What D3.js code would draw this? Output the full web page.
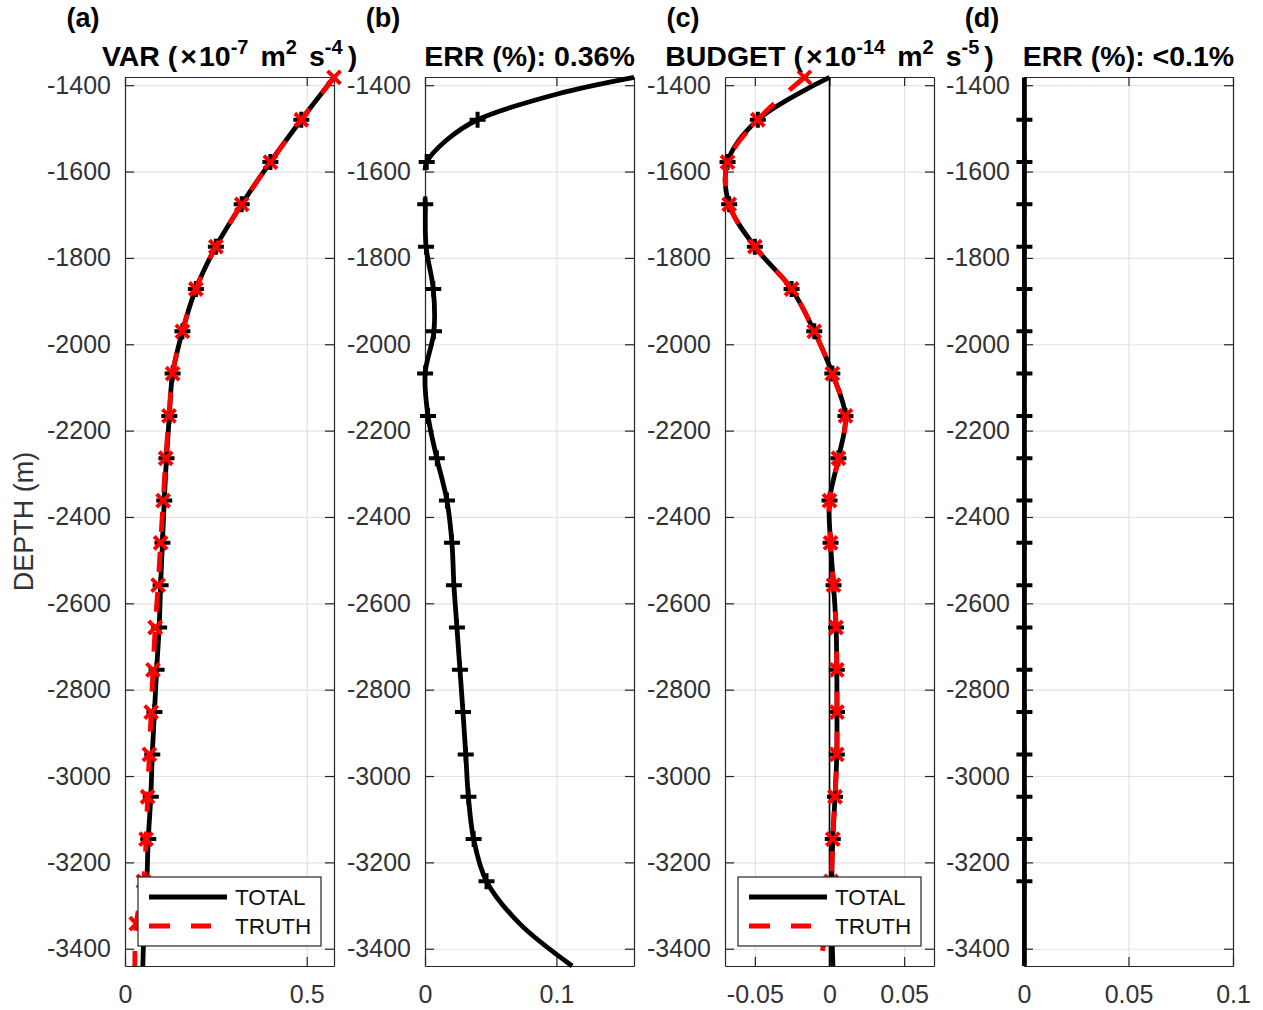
<!DOCTYPE html>
<html lang="en">
<head>
<meta charset="utf-8">
<script src="https://d3js.org/d3.v7.min.js"></script>
<style type="text/css">

body {
	margin: 0;
	background-color: #ffffff;
	font-family: "Liberation Sans", Arial, Helvetica, sans-serif;
}

.axis text {
	font-size: 25px;
	fill: #333333;
}

.axis path, .axis line {
	fill: none;
	stroke: #262626;
	stroke-width: 1.2;
}

.grid path {
	display: none;
}

.grid line {
	stroke: #e3e3e3;
	stroke-width: 1.2;
}

</style>
</head>
<body>
<script type="text/javascript">

var width = 1263;
var height = 1010;

// profile depths (m), one point every 98 m
var depth = [-1382, -1480, -1578, -1676, -1774, -1872, -1970, -2068, -2166, -2264, -2362,
             -2460, -2558, -2656, -2754, -2852, -2950, -3048, -3146, -3244, -3342, -3440];

// (a) variance, x 1e-7 m^2 s^-4
var varTotal = [0.575, 0.485, 0.400, 0.321, 0.250, 0.195, 0.158, 0.131, 0.122, 0.114, 0.108,
                0.103, 0.098, 0.094, 0.087, 0.081, 0.075, 0.071, 0.064, 0.060, 0.053, 0.049];
var varTruth = [0.575, 0.485, 0.400, 0.321, 0.250, 0.195, 0.158, 0.131, 0.121, 0.112, 0.105,
                0.098, 0.091, 0.083, 0.077, 0.072, 0.067, 0.062, 0.058, 0.051, 0.031, 0.027];

// (b) error of the variance (%), with a few extra depths where the curve bends
var errDepth = [-1382, -1421, -1480, -1527, -1578, -1597, -1630, -1662, -1676, -1774, -1872,
                -1970, -2068, -2166, -2264, -2362, -2460, -2558, -2656, -2754, -2852, -2950,
                -3048, -3146, -3244, -3342, -3440];
var errVar = [0.159, 0.100, 0.040, 0.0165, 0.0013, 0.0, -0.001, 0.0, 0.0002, 0.0008, 0.0063,
              0.0068, 0.0001, 0.0023, 0.0090, 0.0167, 0.0205, 0.0220, 0.0243, 0.0266, 0.0289, 0.0310,
              0.0330, 0.0370, 0.0468, 0.0720, 0.1120];

// (c) budget, x 1e-14 m^2 s^-5
var budTotal = [0.0, -0.0480, -0.0683, -0.0672, -0.0500, -0.0254, -0.0102, 0.0019, 0.0107, 0.0060, 0.0000,
                0.0007, 0.0027, 0.0044, 0.0049, 0.0050, 0.0049, 0.0037, 0.0022, 0.0015, 0.0015, 0.0023];
var budTruth = [-0.0168, -0.0480, -0.0683, -0.0672, -0.0500, -0.0254, -0.0102, 0.0019, 0.0107, 0.0060, 0.0000,
                0.0007, 0.0027, 0.0044, 0.0049, 0.0050, 0.0049, 0.0037, 0.0022, 0.0010, -0.0020, -0.0064];

// (d) error of the budget (%)
var errBud = [0.0002, 0.0002, 0.0002, 0.0002, 0.0002, 0.0002, 0.0002, 0.0002, 0.0002, 0.0002, 0.0002,
              0.0002, 0.0002, 0.0002, 0.0002, 0.0002, 0.0002, 0.0002, 0.0002, 0.0002, 0.0002, 0.0002];

// markers: TOTAL "+" from -1480 to -3244, TRUTH "x" from -1382 to -3342
var plusDepth = depth.slice(1, 20);
var crossDepth = depth.slice(0, 21);

var depthTicks = [-1400, -1600, -1800, -2000, -2200, -2400, -2600, -2800, -3000, -3200, -3400];
var depthLimits = [-1381, -3440];

var panelLabels = ["(a)", "(b)", "(c)", "(d)"];
// title pieces: [text, superscript?]
var titleA = [["VAR (", 0], ["\u00d7", 0], ["10", 0], ["-7", 1], ["m", 0], ["2", 1], ["s", 0], ["-4", 1], [")", 0]];
var titleB = [["ERR (%): 0.36%", 0]];
var titleC = [["BUDGET (", 0], ["\u00d7", 0], ["10", 0], ["-14", 1], ["m", 0], ["2", 1], ["s", 0], ["-5", 1], [")", 0]];
var titleD = [["ERR (%): <0.1%", 0]];
var legendNames = ["TOTAL", "TRUTH"];

var plotTop = 77, plotBottom = 966, plotW = 209;

var svg = d3.select("body")
  .append("svg")
  .attr("width", width)
  .attr("height", height);

svg.append("rect")
  .attr("width", width)
  .attr("height", height)
  .attr("fill", "#ffffff");

var y = d3.scaleLinear().domain(depthLimits).range([plotTop, plotBottom]);

function pts(depths, values) {
  return depths.map(function(z, i) { return {z: z, v: values[i]}; });
}

function pick(points, keep) {
  return points.filter(function(d) { return keep.indexOf(d.z) >= 0; });
}

function drawPanel(p) {
  var x = d3.scaleLinear().domain(p.xDomain).range([p.left, p.left + plotW]);
  var g = svg.append("g");
  var right = p.left + plotW;

  // grid
  g.append("g").attr("class", "grid")
    .attr("transform", "translate(0," + plotTop + ")")
    .call(d3.axisTop(x).tickValues(p.xTicks).tickSize(-(plotBottom - plotTop)).tickFormat(""));
  g.append("g").attr("class", "grid")
    .attr("transform", "translate(" + p.left + ",0)")
    .call(d3.axisLeft(y).tickValues(depthTicks).tickSize(-plotW).tickFormat(""));

  // box with inward ticks
  g.append("g").attr("class", "axis")
    .attr("transform", "translate(0," + plotBottom + ")")
    .call(d3.axisBottom(x).tickValues(p.xTicks).tickSizeInner(-9).tickSizeOuter(0)
      .tickPadding(19).tickFormat(function(d) { return String(d); }));
  g.append("g").attr("class", "axis")
    .attr("transform", "translate(0," + plotTop + ")")
    .call(d3.axisTop(x).tickValues(p.xTicks).tickSizeInner(-9).tickSizeOuter(0).tickFormat(""));
  g.append("g").attr("class", "axis")
    .attr("transform", "translate(" + p.left + ",0)")
    .call(d3.axisLeft(y).tickValues(depthTicks).tickSizeInner(-9).tickSizeOuter(0)
      .tickPadding(14).tickFormat(function(d) { return String(d); }));
  g.append("g").attr("class", "axis")
    .attr("transform", "translate(" + right + ",0)")
    .call(d3.axisRight(y).tickValues(depthTicks).tickSizeInner(-9).tickSizeOuter(0).tickFormat(""));

  if (p.zeroLine) {
    g.append("line")
      .attr("x1", x(0)).attr("x2", x(0))
      .attr("y1", plotTop).attr("y2", plotBottom)
      .style("stroke", "#000")
      .style("stroke-width", 1.6);
  }

  var line = d3.line()
    .defined(function(d) { return d.v >= p.xDomain[0]; })
    .x(function(d) { return x(d.v); })
    .y(function(d) { return y(d.z); })
    .curve(d3.curveCatmullRom.alpha(0.5));

  // TOTAL
  g.append("path")
    .datum(p.total)
    .attr("d", line)
    .style("fill", "none")
    .style("stroke", "#000")
    .style("stroke-width", 4.8);

  g.selectAll(".plus")
    .data(pick(p.total, plusDepth))
    .enter().append("path")
    .attr("transform", function(d) { return "translate(" + x(d.v) + "," + y(d.z) + ")"; })
    .attr("d", "M-8,0H8M0,-8V8")
    .style("stroke", "#000")
    .style("stroke-width", 4);

  // TRUTH
  if (p.truth) {
    g.append("path")
      .datum(p.truth)
      .attr("d", line)
      .style("fill", "none")
      .style("stroke", "#ff0000")
      .style("stroke-width", 4.8)
      .style("stroke-dasharray", "20,20");

    g.selectAll(".cross")
      .data(pick(p.truth, crossDepth))
      .enter().append("path")
      .attr("transform", function(d) { return "translate(" + x(d.v) + "," + y(d.z) + ")"; })
      .attr("d", "M-6.5,-6.5L6.5,6.5M-6.5,6.5L6.5,-6.5")
      .style("stroke", "#ff0000")
      .style("stroke-width", 4);
  }

  // panel letter and title
  svg.append("text")
    .attr("x", p.left - 42)
    .attr("y", 27)
    .attr("text-anchor", "middle")
    .style("font-size", "27px")
    .style("font-weight", "bold")
    .text(p.label);

  var t = svg.append("text")
    .attr("x", p.left + plotW / 2)
    .attr("y", 66)
    .attr("text-anchor", "middle")
    .style("font-size", "28.5px")
    .style("font-weight", "bold");
  var raised = false;
  p.title.forEach(function(part, i) {
    var sup = part[1] === 1;
    var dy = (sup ? -12 : 0) + (raised ? 12 : 0);
    // MATLAB tex leaves small gaps around the multiplication sign and exponents
    var dx = 0;
    if (part[0] === "\u00d7") dx = 3;
    else if (i > 0 && p.title[i - 1][1] === 1) dx = part[0] === ")" ? 5 : 12;
    else if (i > 0 && p.title[i - 1][0] === "\u00d7") dx = 2;
    t.append("tspan")
      .attr("dx", dx)
      .attr("dy", dy)
      .style("font-size", sup ? "20px" : "28.5px")
      .text(part[0]);
    raised = sup;
  });

  if (p.legend) {
    var lx = p.left + 13, ly = 877;
    var lg = svg.append("g");
    lg.append("rect")
      .attr("x", lx).attr("y", ly)
      .attr("width", 183).attr("height", 69)
      .style("fill", "#fff")
      .style("stroke", "#262626")
      .style("stroke-width", 1.2);
    lg.append("line")
      .attr("x1", lx + 11).attr("x2", lx + 89)
      .attr("y1", ly + 20).attr("y2", ly + 20)
      .style("stroke", "#000").style("stroke-width", 4.8);
    lg.append("line")
      .attr("x1", lx + 11).attr("x2", lx + 73)
      .attr("y1", ly + 49).attr("y2", ly + 49)
      .style("stroke", "#ff0000").style("stroke-width", 4.8)
      .style("stroke-dasharray", "21,21");
    lg.selectAll("text")
      .data(legendNames)
      .enter().append("text")
      .attr("x", lx + 97)
      .attr("y", function(d, i) { return ly + 28 + i * 29; })
      .style("font-size", "22.5px")
      .style("fill", "#111")
      .text(function(d) { return d; });
  }
}

drawPanel({
  left: 125, xDomain: [0, 0.575], xTicks: [0, 0.5],
  total: pts(depth, varTotal), truth: pts(depth, varTruth),
  label: panelLabels[0], title: titleA, legend: true
});

drawPanel({
  left: 425, xDomain: [0, 0.159], xTicks: [0, 0.1],
  total: pts(errDepth, errVar),
  label: panelLabels[1], title: titleB
});

drawPanel({
  left: 725, xDomain: [-0.07, 0.07], xTicks: [-0.05, 0, 0.05],
  total: pts(depth, budTotal), truth: pts(depth, budTruth),
  label: panelLabels[2], title: titleC, legend: true, zeroLine: true
});

drawPanel({
  left: 1024, xDomain: [0, 0.1], xTicks: [0, 0.05, 0.1],
  total: pts(depth, errBud),
  label: panelLabels[3], title: titleD
});

// y label
svg.append("text")
  .attr("transform", "translate(33," + ((plotTop + plotBottom) / 2) + ") rotate(-90)")
  .attr("text-anchor", "middle")
  .style("font-size", "27px")
  .style("fill", "#333333")
  .text("DEPTH (m)");

</script>
</body>
</html>
